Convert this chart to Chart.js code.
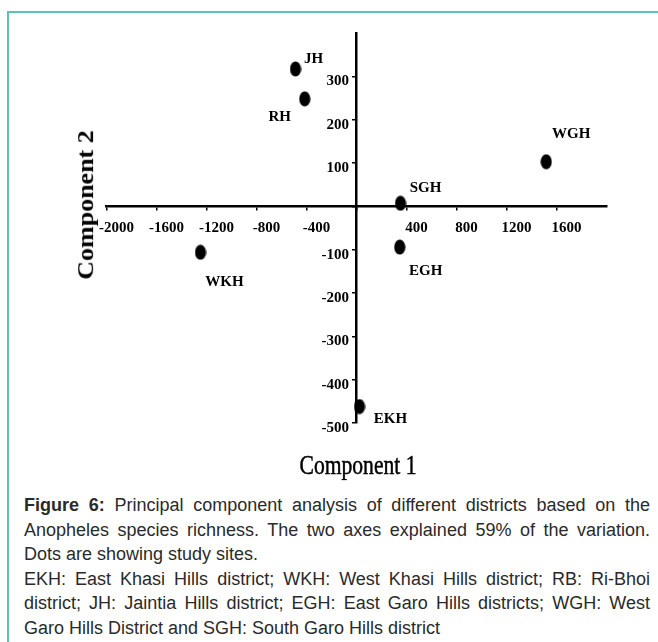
<!DOCTYPE html>
<html><head><meta charset="utf-8">
<script src="https://cdn.jsdelivr.net/npm/chart.js@4.4.1/dist/chart.umd.min.js"></script>
<style>
html,body{margin:0;padding:0;background:#fff;}
#wrap{position:relative;width:658px;height:642px;overflow:hidden;background:#fff;}
#frameTop{position:absolute;left:7px;top:11px;width:651px;height:2px;background:#5cc3b3;}
#frameLeft{position:absolute;left:7px;top:11px;width:2px;height:631px;background:#5cc3b3;}
#c{position:absolute;left:0;top:0;}
.ytitle{position:absolute;left:86px;top:205px;transform:translate(-50%,-50%) scaleX(0.86) rotate(-90deg);font:bold 26px 'Liberation Serif',serif;line-height:1;white-space:nowrap;color:#000;}
.xtitle{position:absolute;left:358px;top:465px;transform:translate(-50%,-50%) scaleX(0.8);font:27px 'Liberation Serif',serif;line-height:1;white-space:nowrap;color:#000;-webkit-text-stroke:0.5px #000;}
#cap{position:absolute;left:24px;width:626px;top:493px;font:18px 'Liberation Sans',Arial,sans-serif;line-height:24.5px;color:#2a2a2a;}
.j{text-align:justify;text-align-last:justify;white-space:nowrap;}
.l{text-align:left;white-space:nowrap;}
</style></head>
<body>
<div id="wrap">
  <canvas id="c" width="658" height="480"></canvas>
  <div id="frameTop"></div>
  <div id="frameLeft"></div>
  <div class="ytitle">Component 2</div>
  <div class="xtitle">Component 1</div>
  <div id="cap">
    <div class="j"><b>Figure 6:</b> Principal component analysis of different districts based on the</div>
    <div class="j">Anopheles species richness. The two axes explained 59% of the variation.</div>
    <div class="l">Dots are showing study sites.</div>
    <div class="j">EKH: East Khasi Hills district; WKH: West Khasi Hills district; RB: Ri-Bhoi</div>
    <div class="j">district; JH: Jaintia Hills district; EGH: East Garo Hills districts; WGH: West</div>
    <div class="l">Garo Hills District and SGH: South Garo Hills district</div>
  </div>
</div>
<script>
// ---- data ----
const districts = ['JH', 'RH', 'WGH', 'SGH', 'EGH', 'WKH', 'EKH'];
const component1 = [-488, -414, 1518, 352, 346, -1248, 24];
const component2 = [317, 248, 103, 7, -94, -106, -462];
const xTickValues = [-2000, -1600, -1200, -800, -400, 400, 800, 1200, 1600];
const yTickValues = [300, 200, 100, -100, -200, -300, -400, -500];

// label placement (pixel offsets of label centre from the dot)
const labelOffsets = {
  JH: [18, -10], RH: [-25, 18], WGH: [25, -28], SGH: [25, -15],
  EGH: [26, 24], WKH: [24, 30], EKH: [31, 13]
};

const points = districts.map((d, i) => ({x: component1[i], y: component2[i]}));

// elliptical dot marker
const dot = document.createElement('canvas');
dot.width = 12; dot.height = 16;
(function () {
  const g = dot.getContext('2d');
  g.fillStyle = '#000';
  g.beginPath();
  g.ellipse(6, 8, 5.6, 7.6, 0, 0, Math.PI * 2);
  g.fill();
})();

const pointLabels = {
  id: 'pointLabels',
  afterDatasetsDraw(chart) {
    const ctx = chart.ctx;
    const meta = chart.getDatasetMeta(0);
    ctx.save();
    ctx.font = 'bold 15px "Liberation Serif", serif';
    ctx.fillStyle = '#000';
    ctx.textAlign = 'center';
    ctx.textBaseline = 'middle';
    meta.data.forEach((el, i) => {
      const off = labelOffsets[districts[i]];
      ctx.fillText(districts[i], el.x + off[0], el.y + off[1]);
    });
    ctx.restore();
  }
};

const tickFont = {family: '"Liberation Serif", serif', size: 15, weight: 'bold'};

new Chart(document.getElementById('c'), {
  type: 'scatter',
  data: {
    datasets: [{
      data: points,
      pointStyle: dot,
      backgroundColor: '#000',
      borderColor: '#000',
      pointRadius: 6,
      pointHoverRadius: 6
    }]
  },
  options: {
    responsive: false,
    animation: false,
    events: [],
    layout: {padding: {left: 106.5, right: 51.5, top: 33, bottom: 57}},
    plugins: {legend: {display: false}, tooltip: {enabled: false}},
    scales: {
      x: {
        type: 'linear',
        position: {y: 0},
        min: -2000, max: 2000,
        afterBuildTicks: s => { s.ticks = xTickValues.concat([0]).sort((a,b)=>a-b).map(v => ({value: v})); },
        ticks: {
          font: tickFont, color: '#000', padding: 10, labelOffset: 10, maxRotation: 0, autoSkip: false,
          callback: v => xTickValues.includes(v) ? String(v) : ''
        },
        grid: {display: true, drawOnChartArea: false, drawTicks: true, tickLength: 3, color: '#000', lineWidth: 1.5},
        border: {display: true, color: '#000', width: 2.5}
      },
      y: {
        type: 'linear',
        position: {x: 0},
        min: -500, max: 400,
        afterBuildTicks: s => { s.ticks = yTickValues.concat([0]).sort((a,b)=>a-b).map(v => ({value: v})); },
        ticks: {
          font: tickFont, color: '#000', padding: 3, labelOffset: 5, autoSkip: false,
          callback: v => yTickValues.includes(v) ? String(v) + '  ' : ''
        },
        grid: {display: true, drawOnChartArea: false, drawTicks: true, tickLength: 3, color: '#000', lineWidth: 1.5},
        border: {display: true, color: '#000', width: 2.5}
      }
    }
  },
  plugins: [pointLabels]
});
</script>
</body></html>
